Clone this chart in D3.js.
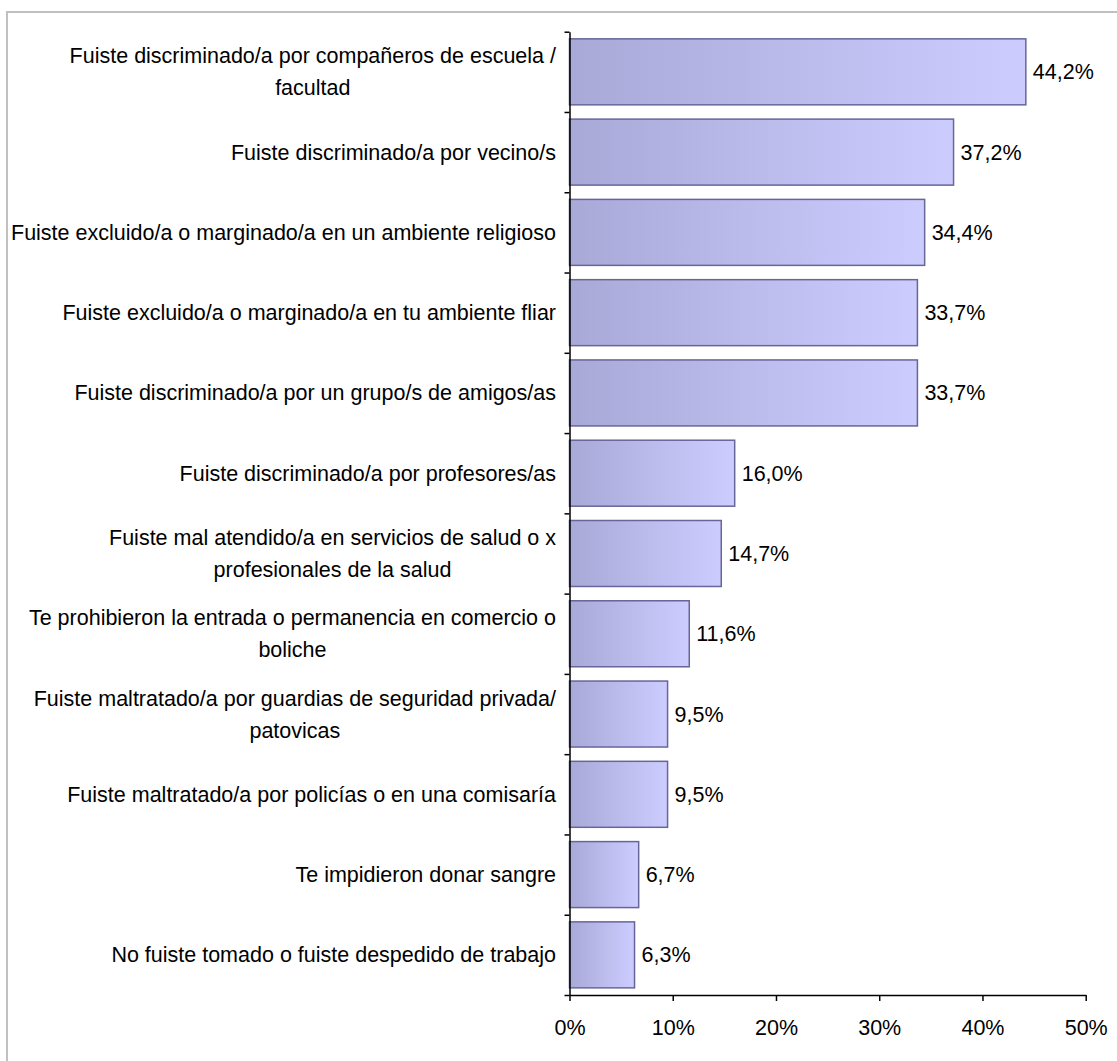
<!DOCTYPE html>
<html>
<head>
<meta charset="utf-8">
<script src="https://cdn.jsdelivr.net/npm/d3@7"></script>
<style>
  html, body { margin: 0; padding: 0; background: #fff; }
  svg { display: block; font-family: "Liberation Sans", Arial, sans-serif; }
</style>
</head>
<body>
<svg id="chart" width="1117" height="1061"></svg>
<script>
const categories = [
  "Fuiste discriminado/a por compañeros de escuela /\nfacultad",
  "Fuiste discriminado/a por vecino/s",
  "Fuiste excluido/a o marginado/a en un ambiente religioso",
  "Fuiste excluido/a o marginado/a en tu ambiente fliar",
  "Fuiste discriminado/a por un grupo/s de amigos/as",
  "Fuiste discriminado/a por profesores/as",
  "Fuiste mal atendido/a en servicios de salud o x\nprofesionales de la salud",
  "Te prohibieron la entrada o permanencia en comercio o\nboliche",
  "Fuiste maltratado/a por guardias de seguridad privada/\npatovicas",
  "Fuiste maltratado/a por policías o en una comisaría",
  "Te impidieron donar sangre",
  "No fuiste tomado o fuiste despedido de trabajo"
];
const values = [44.2, 37.2, 34.4, 33.7, 33.7, 16.0, 14.7, 11.6, 9.5, 9.5, 6.7, 6.3];
const xTicks = [0, 10, 20, 30, 40, 50];

const svg = d3.select("#chart");
const fontSize = 21.5;

// outer border
svg.append("rect")
  .attr("x", 7).attr("y", 12)
  .attr("width", 1200).attr("height", 1200)
  .attr("fill", "none").attr("stroke", "#c0c0c0").attr("stroke-width", 2);

const x0 = 569.5, x1 = 1085.7, yTop = 31.7, yBot = 995;
const x = d3.scaleLinear().domain([0, 50]).range([x0, x1]);
const y = d3.scaleBand().domain(categories).range([yTop, yBot])
  .paddingInner(0.178).paddingOuter(0.089);
const yIdx = d3.scaleLinear().domain([0, categories.length]).range([yTop, yBot]);

const defs = svg.append("defs");
const grad = defs.append("linearGradient").attr("id", "barGrad")
  .attr("x1", "0").attr("y1", "0").attr("x2", "1").attr("y2", "0");
grad.append("stop").attr("offset", "0").attr("stop-color", "#a9a9d8");
grad.append("stop").attr("offset", "1").attr("stop-color", "#ccccff");

// bars
svg.append("g").selectAll("rect").data(values).join("rect")
  .attr("x", x(0))
  .attr("y", (d, i) => y(categories[i]))
  .attr("width", d => x(d) - x(0))
  .attr("height", y.bandwidth())
  .attr("fill", "url(#barGrad)")
  .attr("stroke", "#666699")
  .attr("stroke-width", 1.5);

// value labels
svg.append("g").selectAll("text").data(values).join("text")
  .attr("x", d => x(d) + 7)
  .attr("y", (d, i) => y(categories[i]) + y.bandwidth() / 2)
  .attr("dy", "0.35em")
  .attr("font-size", fontSize)
  .attr("fill", "#000")
  .text(d => d.toFixed(1).replace(".", ",") + "%");

// y axis (ticks at band boundaries)
const yAxis = svg.append("g").attr("transform", `translate(${x0},0)`)
  .call(d3.axisLeft(yIdx).ticks(categories.length).tickSize(5).tickSizeOuter(0).tickFormat(""));
yAxis.selectAll("path,line").attr("stroke", "#000").attr("stroke-width", 1.5);

// x axis
const xAxis = svg.append("g").attr("transform", `translate(0,${yBot})`)
  .call(d3.axisBottom(x).tickValues(xTicks).tickSize(6).tickSizeOuter(0).tickPadding(19)
    .tickFormat(d => d + "%"));
xAxis.selectAll("path,line").attr("stroke", "#000").attr("stroke-width", 1.5);
xAxis.selectAll("text").attr("font-size", fontSize).attr("fill", "#000")
  .attr("font-family", "\"Liberation Sans\", Arial, sans-serif");

// category labels (block right-aligned, lines centered)
const labelRight = 556;
const lineH = 32;
const lg = svg.append("g");
categories.forEach((c, i) => {
  const lines = c.split("\n");
  const cy = y(c) + y.bandwidth() / 2;
  const t = lg.append("text").attr("font-size", fontSize).attr("fill", "#000")
    .attr("text-anchor", "middle");
  const spans = lines.map((ln, j) => t.append("tspan")
    .attr("y", cy + (j - (lines.length - 1) / 2) * lineH)
    .attr("dy", "0.35em")
    .text(ln));
  let maxW = 0;
  spans.forEach(s => { maxW = Math.max(maxW, s.node().getComputedTextLength()); });
  spans.forEach(s => s.attr("x", labelRight - maxW / 2));
});
</script>
</body>
</html>
